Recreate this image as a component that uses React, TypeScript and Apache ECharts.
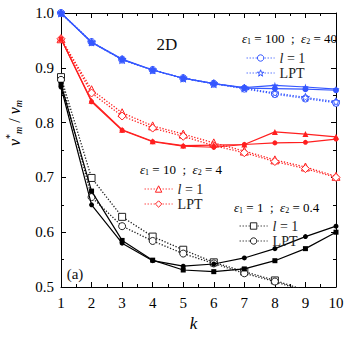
import { useEffect, useRef } from 'react';
import * as echarts from 'echarts';

const kValues = [1, 2, 3, 4, 5, 6, 7, 8, 9, 10];

// eps1 = 100 ; eps2 = 40 (blue)
const blueL1Theory = [1.0, 0.947, 0.915, 0.896, 0.881, 0.871, 0.862, 0.852, 0.844, 0.836];
const blueLptTheory = [1.0, 0.947, 0.915, 0.896, 0.881, 0.871, 0.863, 0.854, 0.846, 0.838];
const blueL1Sim = [1.0, 0.946, 0.915, 0.896, 0.881, 0.871, 0.863, 0.862, 0.861, 0.859];
const blueLptSim = [1.0, 0.947, 0.916, 0.896, 0.881, 0.871, 0.864, 0.868, 0.865, 0.861];

// eps1 = 10 ; eps2 = 4 (red)
const redL1Theory = [0.953, 0.86, 0.818, 0.794, 0.779, 0.763, 0.748, 0.732, 0.719, 0.702];
const redLptTheory = [0.953, 0.854, 0.812, 0.79, 0.775, 0.758, 0.745, 0.729, 0.716, 0.7];
const redL1Sim = [0.953, 0.84, 0.787, 0.766, 0.758, 0.759, 0.76, 0.783, 0.779, 0.774];
const redLptSim = [0.953, 0.838, 0.786, 0.765, 0.757, 0.755, 0.76, 0.763, 0.764, 0.77];

// eps1 = 1 ; eps2 = 0.4 (black)
const blackL1Theory = [0.883, 0.699, 0.628, 0.592, 0.568, 0.545, 0.528, 0.512, 0.494, 0.478];
const blackLptTheory = [0.878, 0.664, 0.611, 0.584, 0.561, 0.543, 0.525, 0.51, 0.492, 0.476];
const blackL1Sim = [0.87, 0.675, 0.585, 0.549, 0.531, 0.528, 0.533, 0.548, 0.57, 0.6];
const blackLptSim = [0.865, 0.65, 0.58, 0.548, 0.538, 0.542, 0.553, 0.57, 0.592, 0.611];

const xTicks = { min: 1, max: 10, interval: 1 };
const yTicks = { min: 0.5, max: 1.0, interval: 0.1 };

const F = '"Liberation Serif", "DejaVu Serif", serif';
const BLUE = '#3557ff';
const RED = '#ff1f1f';
const BLACK = '#000000';
const DARK = '#222222';
const DOTS = [1.3, 1.7];
const STAR =
  'path://M50,0L61.8,35.4L100,35.4L69.1,57.3L80.9,92.7L50,70.8L19.1,92.7L30.9,57.3L0,35.4L38.2,35.4Z';

const legendLabels: Record<string, string> = {
  'b-l1': '{i|l} = 1',
  'b-lpt': 'LPT',
  'r-l1': '{i|l} = 1',
  'r-lpt': 'LPT',
  'k-l1': '{i|l} = 1',
  'k-lpt': 'LPT',
};

function pts(ys: number[]) {
  return kValues.map((k, i) => [k, ys[i]]);
}

function theory(name: string, ys: number[], color: string, symbol: string, size: number) {
  return {
    name,
    type: 'line',
    data: pts(ys),
    symbol,
    symbolSize: size,
    showSymbol: true,
    lineStyle: { color, width: 1.3, type: DOTS },
    itemStyle: { color: '#ffffff', borderColor: color, borderWidth: 1 },
    z: 2,
  };
}

function sim(name: string, ys: number[], color: string, symbol: string, size: number) {
  return {
    name,
    type: 'line',
    data: pts(ys),
    symbol,
    symbolSize: size,
    showSymbol: true,
    lineStyle: { color, width: 1.2, type: 'solid' },
    itemStyle: { color },
    z: 3,
  };
}

const richSub = {
  e: { fontFamily: F, fontSize: 13, fontStyle: 'italic', color: '#222' },
  s: { fontFamily: F, fontSize: 8, color: '#222', padding: [7, 0, 0, 0] },
  t: { fontFamily: F, fontSize: 13, color: '#222' },
};

function header(x: number, y: number, a: string, b: string) {
  return {
    type: 'text',
    x,
    y,
    style: {
      text: `{e|ε}{s|1}{t| = ${a}  ;  }{e|ε}{s|2}{t| = ${b}}`,
      rich: richSub,
      align: 'left',
      verticalAlign: 'middle',
    },
  };
}

function legendBlock(left: number, top: number, names: string[], color: string) {
  return {
    orient: 'vertical',
    left,
    top,
    itemWidth: 28,
    itemHeight: 8,
    itemGap: 1,
    selectedMode: false,
    data: names.map((name) => ({
      name,
      itemStyle: { color: '#ffffff', borderColor: color, borderWidth: 1 },
      lineStyle: { color, width: 1.2, type: [1.2, 1.8] },
    })),
    formatter: (n: string) => legendLabels[n],
    textStyle: {
      fontFamily: F,
      fontSize: 14,
      lineHeight: 12,
      color: '#222',
      rich: { i: { fontFamily: F, fontSize: 14, lineHeight: 12, fontStyle: 'italic', color: '#222' } },
    },
  };
}

function axisCommon() {
  return {
    type: 'value',
    axisLine: { show: true, onZero: false, lineStyle: { color: '#000', width: 1 } },
    axisTick: { show: true, inside: true, length: 5, lineStyle: { color: '#000' } },
    minorTick: { show: true, splitNumber: 2, length: 3, lineStyle: { color: '#000' } },
    splitLine: { show: false },
    minorSplitLine: { show: false },
  };
}

export default function App() {
  const ref = useRef<HTMLDivElement>(null);
  useEffect(() => {
    if (!ref.current) return;
    document.body.style.margin = '0';
    const chart = echarts.init(ref.current, undefined, { renderer: 'svg' });
    chart.setOption({
      animation: false,
      backgroundColor: '#ffffff',
      grid: { left: 61, right: 18, top: 13, bottom: 54, containLabel: false },
      xAxis: [
        {
          ...axisCommon(),
          ...xTicks,
          position: 'bottom',
          axisLabel: { color: '#000', fontFamily: F, fontSize: 15, margin: 8 },
          name: 'k',
          nameLocation: 'middle',
          nameGap: 21,
          nameTextStyle: { fontFamily: F, fontSize: 17, fontStyle: 'italic', color: '#000', padding: [0, 10, 0, 0] },
        },
        {
          ...axisCommon(),
          ...xTicks,
          position: 'top',
          axisLabel: { show: false },
        },
      ],
      yAxis: [
        {
          ...axisCommon(),
          ...yTicks,
          position: 'left',
          axisLabel: {
            color: '#000',
            fontFamily: F,
            fontSize: 15,
            margin: 7,
            formatter: (v: number) => v.toFixed(1),
          },
        },
        {
          ...axisCommon(),
          ...yTicks,
          position: 'right',
          axisLabel: { show: false },
        },
      ],
      legend: [
        legendBlock(241, 46, ['b-l1', 'b-lpt'], BLUE),
        legendBlock(139, 177, ['r-l1', 'r-lpt'], RED),
        legendBlock(234, 214, ['k-l1', 'k-lpt'], DARK),
      ],
      graphic: [
        header(242, 38, '100', '40'),
        header(140, 169, '10', '4'),
        header(234, 207, '1', '0.4'),
        {
          type: 'text',
          x: 167,
          y: 44,
          style: { text: '2D', fontFamily: F, fontSize: 17, fill: '#111', align: 'center', verticalAlign: 'middle' },
        },
        {
          type: 'text',
          x: 75,
          y: 274,
          style: { text: '(a)', fontFamily: F, fontSize: 15, fill: '#111', align: 'center', verticalAlign: 'middle' },
        },
        {
          type: 'text',
          x: 14,
          y: 123,
          rotation: Math.PI / 2,
          style: {
            text: '{v|v}{sup|*}{sub|m}{t| / }{v|v}{sub|m}',
            align: 'center',
            verticalAlign: 'middle',
            rich: {
              v: { fontFamily: F, fontSize: 16, fontStyle: 'italic', color: '#111' },
              sup: { fontFamily: F, fontSize: 10, color: '#111', padding: [0, 0, 9, 0] },
              sub: { fontFamily: F, fontSize: 10, fontStyle: 'italic', color: '#111', padding: [9, 0, 0, 0] },
              t: { fontFamily: F, fontSize: 16, color: '#111' },
            },
          },
        },
      ],
      series: [
        theory('b-l1', blueL1Theory, BLUE, 'circle', 7),
        theory('b-lpt', blueLptTheory, BLUE, STAR, 8),
        sim('b-l1-sim', blueL1Sim, BLUE, 'circle', 6),
        sim('b-lpt-sim', blueLptSim, BLUE, STAR, 7),
        theory('r-l1', redL1Theory, RED, 'triangle', 8),
        theory('r-lpt', redLptTheory, RED, 'diamond', 8),
        sim('r-l1-sim', redL1Sim, RED, 'triangle', 6),
        sim('r-lpt-sim', redLptSim, RED, 'circle', 5),
        theory('k-l1', blackL1Theory, DARK, 'rect', 7),
        theory('k-lpt', blackLptTheory, DARK, 'circle', 7),
        sim('k-l1-sim', blackL1Sim, BLACK, 'rect', 5),
        sim('k-lpt-sim', blackLptSim, BLACK, 'circle', 5),
      ],
    });
    return () => chart.dispose();
  }, []);
  return <div ref={ref} style={{ width: 354, height: 341 }} />;
}
